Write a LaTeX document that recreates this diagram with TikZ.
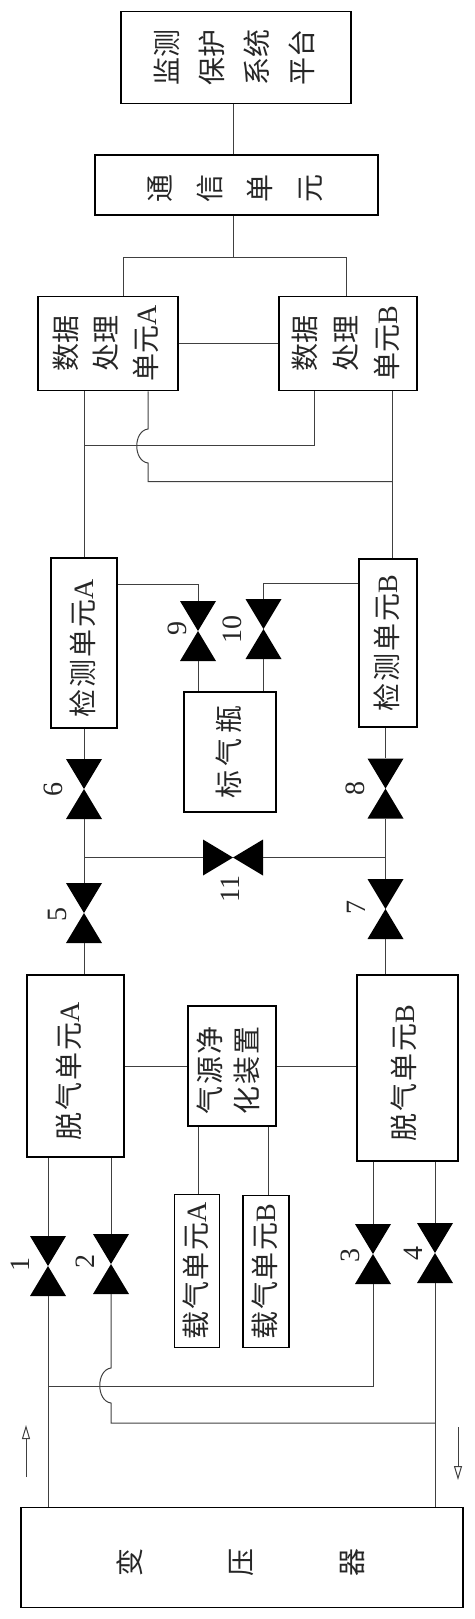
\documentclass[tikz,border=0pt]{standalone}
\usepackage{graphicx}
\usepackage{fontspec}
\usetikzlibrary{arrows.meta}
\setmainfont{Noto Sans CJK SC}
\newfontfamily\latin{Liberation Serif}
% rotated box text: pitch of the columns, then the lines
\newcommand{\vtext}[2][45]{\rotatebox{90}{\fontsize{28}{#1}\selectfont\begin{tabular}{@{}c@{}}#2\end{tabular}}}
\tikzset{
  unitbox/.style={draw=black, line width=1.9pt, inner sep=0pt, text=black!85},
  pipe/.style={draw=black!75, line width=1pt},
  valve/.style={minimum width=36pt, minimum height=60pt, inner sep=0pt, path picture={
    \fill[black] (path picture bounding box.north west) -- (path picture bounding box.north east)
      -- (path picture bounding box.south west) -- (path picture bounding box.south east) -- cycle;}},
  valveh/.style={minimum width=60pt, minimum height=36pt, inner sep=0pt, path picture={
    \fill[black] (path picture bounding box.north west) -- (path picture bounding box.south west)
      -- (path picture bounding box.north east) -- (path picture bounding box.south east) -- cycle;}},
  valvenum/.style={rotate=90, inner sep=0pt, text=black!85, font=\latin\fontsize{28}{28}\selectfont},
  flowarrow/.style={draw=black!75, line width=1pt, -{Triangle[open, length=14pt, width=8pt]}}
}
\begin{document}
\begin{tikzpicture}[x=1pt, y=-1pt]
\useasboundingbox (0,0) rectangle (474,1619);
% Upper blocks
\node[unitbox, minimum width=230pt, minimum height=92pt] (monitor) at (236,57.5) {\vtext{监测\\保护\\系统\\平台}};
\node[unitbox, minimum width=283pt, minimum height=60pt] (comm) at (236.5,185) {\vtext{通\kern6pt\\[5pt]信\kern6pt\\[5pt]单\kern6pt\\[5pt]元\kern6pt}};
\node[unitbox, minimum width=140pt, minimum height=94pt] (dpA) at (108,343.5) {\vtext[40]{数据\\处理\\单元{\latin A}}};
\node[unitbox, minimum width=138pt, minimum height=94pt] (dpB) at (348,343.5) {\vtext[41]{数据\\处理\\单元{\latin B}}};
% Detection blocks
\node[unitbox, minimum width=66pt, minimum height=170pt] (detA) at (84,643) {\vtext{检\kern2pt 测\kern2pt 单\kern2pt 元{\latin A}\kern10pt}};
\node[unitbox, minimum width=58pt, minimum height=168pt] (detB) at (388,643) {\vtext{检\kern2pt 测\kern2pt 单\kern2pt 元{\latin B}}};
\node[unitbox, minimum width=92pt, minimum height=120.5pt] (bottle) at (230,752) {\vtext{标\kern4.5pt 气\kern4.5pt 瓶}};
% Degassing blocks
\node[unitbox, minimum width=97pt, minimum height=182.5pt] (degasA) at (75.5,1066) {\vtext{脱\kern2pt 气\kern2pt 单\kern2pt 元{\latin A}\kern10pt\\[10pt]}};
\node[unitbox, minimum width=101pt, minimum height=185.5pt] (degasB) at (407.5,1068) {\vtext{脱\kern2pt 气\kern2pt 单\kern2pt 元{\latin B}\kern10pt\\[5pt]}};
\node[unitbox, minimum width=88pt, minimum height=119.5pt] (purifier) at (232,1066) {\vtext[37]{气\kern2pt 源\kern2pt 净\kern8pt\\化\kern2pt 装\kern2pt 置\kern8pt}};
\node[unitbox, minimum width=44pt, minimum height=153pt] (carrierA) at (197,1271) {\vtext{载\kern1.5pt 气\kern1.5pt 单\kern1.5pt 元{\latin A}}};
\node[unitbox, minimum width=46pt, minimum height=152pt] (carrierB) at (266,1271.5) {\vtext{载\kern1.5pt 气\kern1.5pt 单\kern1.5pt 元{\latin B}}};
\node[unitbox, minimum width=442pt, minimum height=100pt] (trafo) at (242,1557.5) {\vtext{变\kern10pt\\[66pt]压\kern10pt\\[66pt]器\kern10pt}};
% Valves
\node[valve] (valve1) at (48,1266) {};
\node[valve] (valve2) at (111,1264) {};
\node[valve] (valve3) at (373,1254) {};
\node[valve] (valve4) at (435,1253) {};
\node[valve] (valve5) at (84,913) {};
\node[valve] (valve6) at (84,789) {};
\node[valve] (valve7) at (385.5,909) {};
\node[valve] (valve8) at (385.5,788.5) {};
\node[valve] (valve9) at (198,631) {};
\node[valve] (valve10) at (263.5,629) {};
\node[valveh] (valve11) at (233,857.5) {};
\node[valvenum] (num1) at (20,1264) {1};
\node[valvenum] (num2) at (85,1261) {2};
\node[valvenum] (num3) at (350,1255.5) {3};
\node[valvenum] (num4) at (413,1253.5) {4};
\node[valvenum] (num5) at (57,914) {5};
\node[valvenum] (num6) at (53,789) {6};
\node[valvenum] (num7) at (356,907) {7};
\node[valvenum] (num8) at (355,788) {8};
\node[valvenum] (num9) at (177,628) {9};
\node[valvenum] (num10) at (232,629) {10};
\node[valvenum] (num11) at (230,889) {11};
% Junctions
\coordinate (busC) at (233.5,257);
\coordinate (busA) at (123,257);
\coordinate (busB) at (346,257);
\coordinate (jA) at (84,445);
\coordinate (jAend) at (314,445);
\coordinate (jB) at (392,481.5);
\coordinate (hopA) at (148,481.5);
\coordinate (hopA1) at (148,429);
\coordinate (hopA2) at (148,463);
\coordinate (cal9) at (198,584.5);
\coordinate (cal10) at (263.5,583.5);
\coordinate (crossA) at (84,857.5);
\coordinate (crossB) at (385.5,857.5);
\coordinate (inA) at (48,1386);
\coordinate (inAend) at (373,1386);
\coordinate (outB) at (435,1423);
\coordinate (hopB) at (111,1423);
\coordinate (hopB1) at (111,1368);
\coordinate (hopB2) at (111,1403);
\coordinate (arrowAs) at (26,1477);
\coordinate (arrowAe) at (26,1425);
\coordinate (arrowBs) at (458,1427);
\coordinate (arrowBe) at (458,1480);
% Top connections
\draw[pipe] (monitor.south -| busC) -- (comm.north -| busC);
\draw[pipe] (comm.south -| busC) -- (busC);
\draw[pipe] (dpA.north -| busA) -- (busA) -- (busB) -- (dpB.north -| busB);
\draw[pipe] (dpA.east) -- (dpB.west);
\draw[pipe] (dpA.south -| detA) -- (detA.north);
\draw[pipe] (dpB.south -| jB) -- (detB.north -| jB);
\draw[pipe] (jA) -- (jAend) -- (dpB.south -| jAend);
\draw[pipe] (dpA.south -| hopA) -- (hopA1) .. controls (133,431) and (133,461) .. (hopA2) -- (hopA) -- (jB);
% Detection connections
\draw[pipe] (detA.east |- cal9) -- (cal9) -- (valve9.north);
\draw[pipe] (detB.west |- cal10) -- (cal10) -- (valve10.north);
\draw[pipe] (valve9.south) -- (bottle.north -| valve9);
\draw[pipe] (valve10.south) -- (bottle.north -| valve10);
\draw[pipe] (detA.south) -- (valve6.north);
\draw[pipe] (valve6.south) -- (valve5.north);
\draw[pipe] (valve5.south) -- (degasA.north -| valve5);
\draw[pipe] (detB.south -| valve8) -- (valve8.north);
\draw[pipe] (valve8.south) -- (valve7.north);
\draw[pipe] (valve7.south) -- (degasB.north -| valve7);
\draw[pipe] (crossA) -- (valve11.west);
\draw[pipe] (valve11.east) -- (crossB);
% Gas source
\draw[pipe] (degasA.east |- purifier.west) -- (purifier.west);
\draw[pipe] (purifier.east) -- (degasB.west |- purifier.east);
\draw[pipe] (purifier.south -| 198,0) -- (carrierA.north -| 198,0);
\draw[pipe] (purifier.south -| 268,0) -- (carrierB.north -| 268,0);
% Transformer loop
\draw[pipe] (degasA.south -| valve1) -- (valve1.north);
\draw[pipe] (degasA.south -| valve2) -- (valve2.north);
\draw[pipe] (degasB.south -| valve3) -- (valve3.north);
\draw[pipe] (degasB.south -| valve4) -- (valve4.north);
\draw[pipe] (valve1.south) -- (trafo.north -| valve1);
\draw[pipe] (valve4.south) -- (trafo.north -| valve4);
\draw[pipe] (inA) -- (inAend) -- (valve3.south);
\draw[pipe] (valve2.south) -- (hopB1) .. controls (96,1370) and (96,1401) .. (hopB2) -- (hopB) -- (outB);
\draw[flowarrow] (arrowAs) -- (arrowAe);
\draw[flowarrow] (arrowBs) -- (arrowBe);
\end{tikzpicture}
\end{document}
